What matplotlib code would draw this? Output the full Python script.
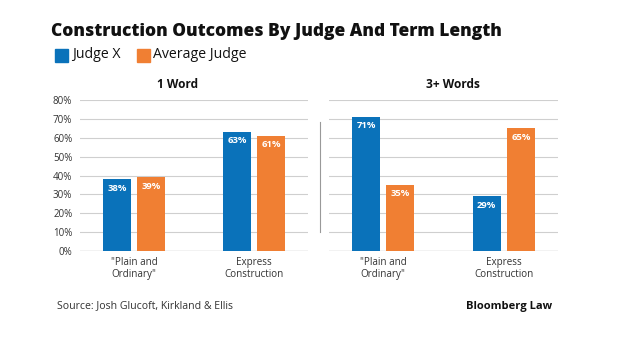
import matplotlib
matplotlib.use("Agg")
import matplotlib.pyplot as plt
from matplotlib.lines import Line2D
from matplotlib.patches import Rectangle
import numpy as np

plt.rcParams['font.family'] = ['Open Sans', 'DejaVu Sans']

categories = ['"Plain and\nOrdinary"', 'Express\nConstruction']
panels = ['1 Word', '3+ Words']
judgeX = [[38, 63], [71, 29]]
avgJudge = [[39, 61], [35, 65]]
yticks = [0, 10, 20, 30, 40, 50, 60, 70, 80]

BLUE = '#0a72ba'
ORANGE = '#f07f33'
GRID = '#cfcfcf'
TEXT = '#333333'

fig = plt.figure(figsize=(6.33, 3.51), dpi=100)
W, H = 633, 351


def box(x0, y0, x1, y1):
    # pixel box (top-left origin) -> figure fraction rect
    return [x0 / W, 1 - y1 / H, (x1 - x0) / W, (y1 - y0) / H]


axes = [fig.add_axes(box(80, 100, 308, 251)), fig.add_axes(box(329, 100, 558, 251))]
titleX = [178, 453]

width = 0.233
gap = 0.05
for k, axis in enumerate(axes):
    x = np.arange(len(categories))
    b1 = axis.bar(x - width / 2 - gap / 2, judgeX[k], width, color=BLUE, zorder=3)
    b2 = axis.bar(x + width / 2 + gap / 2, avgJudge[k], width, color=ORANGE, zorder=3)
    for bars, vals in ((b1, judgeX[k]), (b2, avgJudge[k])):
        for rect, v in zip(bars, vals):
            axis.text(rect.get_x() + rect.get_width() / 2, v - 4.7, f"{v}%",
                      ha="center", va="center", color="white", fontsize=6.8,
                      fontweight="bold", zorder=4)
    axis.set_xlim(-0.45, 1.45)
    axis.set_ylim(0, 80)
    axis.set_yticks(yticks)
    axis.set_yticklabels([f"{t}%" for t in yticks])
    axis.yaxis.grid(True, color=GRID, linewidth=0.8, zorder=0)
    axis.set_xticks(x)
    axis.set_xticklabels(categories, fontsize=7.1, color=TEXT, linespacing=1.2)
    axis.tick_params(axis="both", length=0)
    axis.tick_params(axis="x", pad=4)
    axis.tick_params(axis="y", labelsize=7, labelcolor=TEXT, pad=5.5)
    for s in axis.spines.values():
        s.set_visible(False)
    axis.axhline(0, color="#b0b0b0", linewidth=0.9, zorder=2)
    if k == 1:
        axis.set_yticklabels([])
    fig.text(titleX[k] / W, 1 - 84 / H, panels[k], ha="center", va="center",
             fontsize=8.6, fontweight="bold", color="#111111")

# divider between the panels
fig.add_artist(Line2D([320 / W, 320 / W], [1 - 122 / H, 1 - 232 / H],
                      color="#999999", linewidth=0.8))

fig.text(51 / W, 1 - 31 / H, "Construction Outcomes By Judge And Term Length",
         ha="left", va="center", fontsize=12.5, fontweight="heavy", color="#111111")

# legend
fig.add_artist(Rectangle((55 / W, 1 - 62 / H), 13 / W, 13 / H, color=BLUE,
                         transform=fig.transFigure))
fig.text(72 / W, 1 - 55 / H, "Judge X", ha="left", va="center", fontsize=10.2, color="#111111")
fig.add_artist(Rectangle((137 / W, 1 - 62 / H), 12.5 / W, 13 / H, color=ORANGE,
                         transform=fig.transFigure))
fig.text(153 / W, 1 - 55 / H, "Average Judge", ha="left", va="center", fontsize=10.2, color="#111111")

fig.text(57 / W, 1 - 306 / H, "Source: Josh Glucoft, Kirkland & Ellis", ha="left",
         va="center", fontsize=7.6, color=TEXT)
fig.text(466 / W, 1 - 306 / H, "Bloomberg Law", ha="left", va="center",
         fontsize=8.0, fontweight="bold", color="#111111")

fig.savefig("out.png", dpi=100, facecolor="white")
